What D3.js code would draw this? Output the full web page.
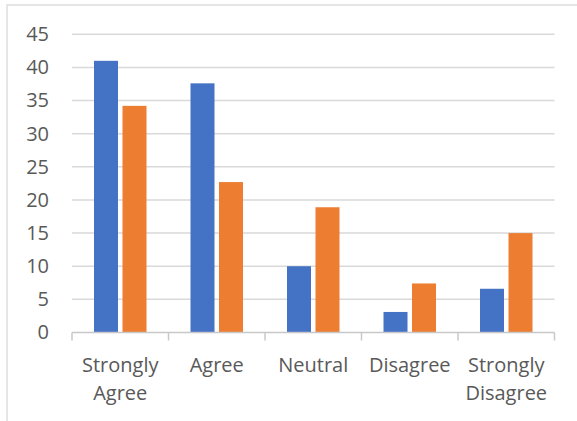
<!DOCTYPE html>
<html>
<head>
<meta charset="utf-8">
<script src="https://cdn.jsdelivr.net/npm/d3@7"></script>
<style>
  html, body { margin: 0; padding: 0; background: #ffffff; }
  svg { display: block; }
  text { font-family: "Open Sans", "DejaVu Sans", sans-serif; fill: #595959; }
</style>
</head>
<body>
<svg id="chart" width="577" height="421"></svg>
<script>
// Survey responses, two groups per answer
const categories = ["Strongly Agree", "Agree", "Neutral", "Disagree", "Strongly Disagree"];
const seriesNames = ["Group 1", "Group 2"];
const group1Values = [41, 37.6, 10, 3.1, 6.6];
const group2Values = [34.2, 22.7, 18.9, 7.4, 15];
const yTickValues = [0, 5, 10, 15, 20, 25, 30, 35, 40, 45];

const colors = ["#4472C4", "#ED7D31"];
const svg = d3.select("#chart");

// Outer chart frame (extends past the right and bottom edges)
svg.append("rect")
  .attr("x", 7).attr("y", 5)
  .attr("width", 700).attr("height", 600)
  .attr("fill", "none")
  .attr("stroke", "#d9d9d9")
  .attr("stroke-width", 1.3);

const plot = { left: 72, right: 554.5, top: 34.3, bottom: 332.5 };

const x0 = d3.scaleBand()
  .domain(categories)
  .range([plot.left, plot.right])
  .padding(0);

const groupInset = x0.bandwidth() * 0.228;
const x1 = d3.scaleBand()
  .domain(seriesNames)
  .range([groupInset, x0.bandwidth() - groupInset])
  .paddingInner(0.158)
  .paddingOuter(0);

const y = d3.scaleLinear()
  .domain([0, 45])
  .range([plot.bottom, plot.top]);

// Horizontal gridlines
svg.append("g")
  .selectAll("line")
  .data(yTickValues.filter(v => v > 0))
  .join("line")
  .attr("x1", plot.left).attr("x2", plot.right)
  .attr("y1", d => y(d)).attr("y2", d => y(d))
  .attr("stroke", "#d9d9d9")
  .attr("stroke-width", 1.5);

// Y axis labels
const yAxis = svg.append("g")
  .attr("transform", `translate(${plot.left},0)`)
  .call(d3.axisLeft(y).tickValues(yTickValues).tickSize(0).tickPadding(23).tickFormat(d3.format("d")));
yAxis.select(".domain").remove();
yAxis.selectAll("text")
  .style("font-family", "'Open Sans', sans-serif")
  .style("font-size", "20px")
  .attr("fill", "#595959");

// Bars
const rows = categories.map((c, i) => ({
  category: c,
  values: [
    { series: seriesNames[0], value: group1Values[i] },
    { series: seriesNames[1], value: group2Values[i] }
  ]
}));

svg.append("g")
  .selectAll("g")
  .data(rows)
  .join("g")
  .attr("transform", d => `translate(${x0(d.category)},0)`)
  .selectAll("rect")
  .data(d => d.values)
  .join("rect")
  .attr("x", d => x1(d.series))
  .attr("width", x1.bandwidth())
  .attr("y", d => y(d.value))
  .attr("height", d => y(0) - y(d.value))
  .attr("fill", (d, i) => colors[i]);

// Category axis: baseline with boundary ticks
const xAxis = svg.append("g");
xAxis.append("line")
  .attr("x1", plot.left).attr("x2", plot.right)
  .attr("y1", y(0)).attr("y2", y(0))
  .attr("stroke", "#c8c8c8")
  .attr("stroke-width", 1.5);

const boundaries = categories.map(c => x0(c)).concat([x0(categories[categories.length - 1]) + x0.bandwidth()]);
xAxis.selectAll("line.tick")
  .data(boundaries)
  .join("line")
  .attr("class", "tick")
  .attr("x1", d => d).attr("x2", d => d)
  .attr("y1", y(0)).attr("y2", y(0) + 8)
  .attr("stroke", "#c8c8c8")
  .attr("stroke-width", 1.5);

// Category labels, wrapped onto two lines where needed
const wrapped = {
  "Strongly Agree": ["Strongly", "Agree"],
  "Strongly Disagree": ["Strongly", "Disagree"]
};
const labels = xAxis.selectAll("text.cat")
  .data(categories)
  .join("text")
  .attr("class", "cat")
  .attr("text-anchor", "middle")
  .attr("font-size", 20)
  .attr("x", d => x0(d) + x0.bandwidth() / 2)
  .attr("y", 371.5);

labels.selectAll("tspan")
  .data(d => (wrapped[d] || [d]).map(t => ({ t, x: x0(d) + x0.bandwidth() / 2 })))
  .join("tspan")
  .attr("x", d => d.x)
  .attr("dy", (d, i) => i === 0 ? 0 : 28.5)
  .text(d => d.t);
</script>
</body>
</html>
